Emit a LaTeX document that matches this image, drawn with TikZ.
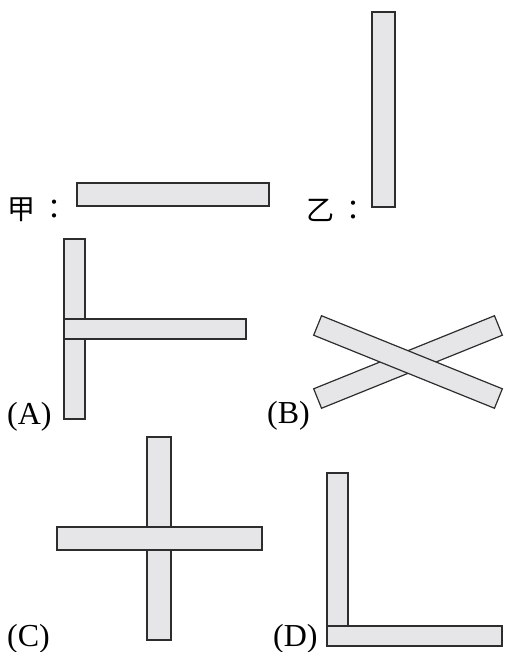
\documentclass[tikz,border=0pt]{standalone}
\usepackage{fontspec}
\setmainfont{Liberation Serif}
\newfontfamily\cjk{Noto Sans CJK TC}
\definecolor{stickfill}{RGB}{230,230,232}
\definecolor{stickline}{RGB}{45,45,45}

\begin{document}
\begin{tikzpicture}[x=1pt,y=-1pt,
  stick/.style={draw=stickline, fill=stickfill, line width=1.2pt},
  every node/.style={inner sep=0pt, font=\fontsize{32}{32}\selectfont}]
\useasboundingbox (0,0) rectangle (506,652);
% 1. 甲、乙
\node[anchor=west, font=\cjk\fontsize{28}{28}\selectfont] (jia) at (7,210) {甲\hspace{5pt}：};
\draw[stick] (77,183) rectangle (269,206);
\node[anchor=west, font=\cjk\fontsize{28}{28}\selectfont] (yi) at (306,210) {乙\hspace{5pt}：};
\draw[stick] (372,12) rectangle (395,207);

% 2. (A)
\draw[stick] (64,239) rectangle (85,419);
\draw[stick] (64,319) rectangle (246,339);
\node[anchor=base west] (labA) at (7,424) {(A)};

% 3. (B)
\draw[stick, rotate around={22:(408,362)}] (310.5,351.5) rectangle (505.5,372.5);
\draw[stick, rotate around={-22:(408,362)}] (310.5,351.5) rectangle (505.5,372.5);
\node[anchor=base west] (labB) at (267,423) {(B)};

% 4. (C)
\draw[stick] (147,437) rectangle (171,640);
\draw[stick] (57,527) rectangle (262,550);
\node[anchor=base west] (labC) at (7,646) {(C)};

% 5. (D)
\draw[stick] (327,473) rectangle (348,636);
\draw[stick] (327,626) rectangle (502,646);
\node[anchor=base west] (labD) at (273,646) {(D)};
\end{tikzpicture}
\end{document}
